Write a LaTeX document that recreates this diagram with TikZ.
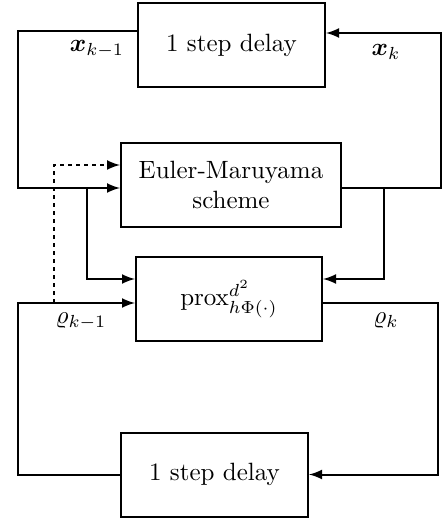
\documentclass[tikz,border=0pt]{standalone}
\usepackage{amsmath}
\begin{document}
\begin{tikzpicture}[x=0.4pt, y=-0.4pt, thick, >=latex,
                block/.style={draw, minimum width=74.8pt, minimum height=33.6pt},
                dashline/.style={dash pattern=on 1.6pt off 1.6pt}
            ]
            \useasboundingbox (0,0) rectangle (442,518);
            % blocks
            \node[block] (dtop) at (231.5,45) {1 step delay};
            \node[block, minimum width=88pt, align=center] (em) at (231,185) {Euler-Maruyama\\scheme};
            \node[block, minimum width=74.4pt] (prox) at (229,299) {$\operatorname{prox}^{d^2}_{h\Phi(\cdot)}$};
            \node[block] (dbot) at (214.5,474.5) {1 step delay};
            % branch points
            \coordinate (xin) at (18,188);
            \coordinate (xout) at (441,188);
            \coordinate (xb) at (87,188);
            \coordinate (xc) at (384,188);
            \coordinate (rin) at (18,303);
            \coordinate (rout) at (438,303);
            \coordinate (rb) at (54,303);
            % x loop
            \draw[->] ([yshift=5.6pt]dtop.west) -| (xin) -- (xin -| em.west);
            \draw[->] (em.east |- xout) -- (xout) |- ([yshift=4.8pt]dtop.east);
            \draw[->] (xb) |- ([yshift=8pt]prox.west);
            \draw[->] (xc) |- ([yshift=8pt]prox.east);
            % rho loop
            \draw[->] (dbot.west) -| (rin) -- (rin -| prox.west);
            \draw[->] (prox.east |- rout) -- (rout) |- (dbot.east);
            \draw[->, dashline] (rb) |- ([yshift=8pt]em.west);
            % labels
            \node (lxa) at (97,49) {$\boldsymbol{x}_{k-1}$};
            \node (lxb) at (386,52) {$\boldsymbol{x}_{k}$};
            \node (lra) at (81,321) {$\varrho_{k-1}$};
            \node (lrb) at (386,321) {$\varrho_{k}$};
        \end{tikzpicture}
\end{document}
